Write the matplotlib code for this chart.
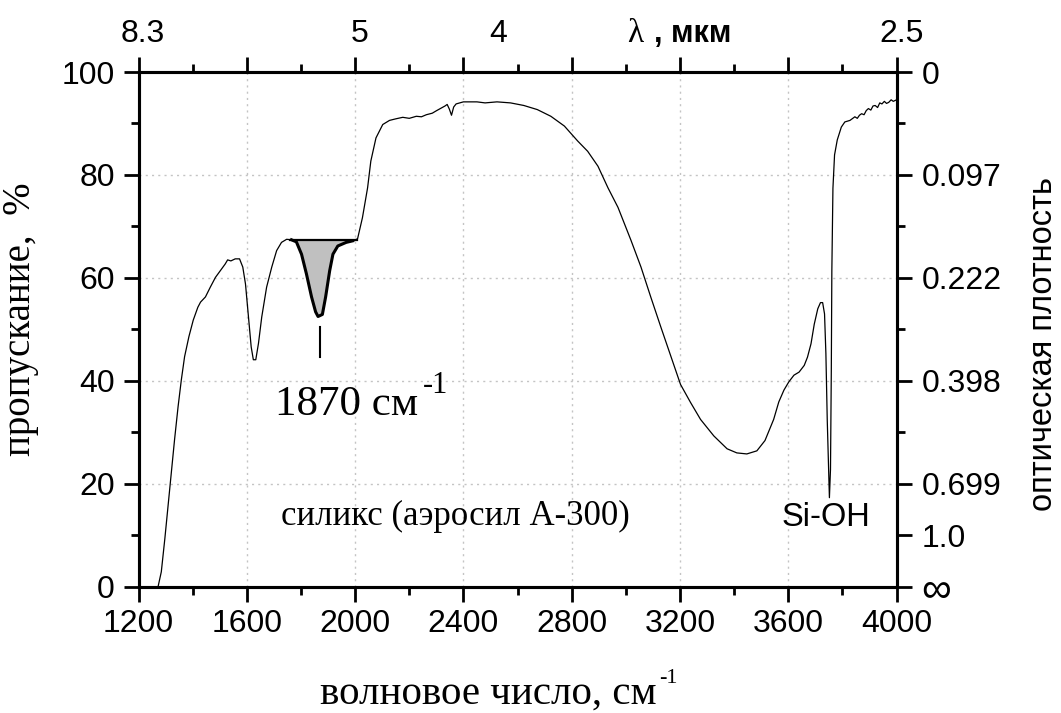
import matplotlib
matplotlib.use('Agg')
import matplotlib.pyplot as plt
import numpy as np

plt.rcParams['font.family'] = ['Liberation Sans', 'DejaVu Sans']
SERIF = ['Liberation Serif', 'DejaVu Serif']

# --- data ---
wavenumber = [1272, 1284, 1297, 1309, 1321, 1333, 1346, 1358, 1370, 1386,
              1402, 1419, 1429, 1447, 1465, 1484, 1502, 1520, 1529, 1541,
              1557, 1573, 1585, 1595, 1606, 1616, 1624, 1633, 1643, 1655,
              1673, 1692, 1710, 1728, 1747, 1765, 1783, 1802, 1820, 1839,
              1854, 1863, 1879, 1891, 1906, 1918, 1936, 1967, 1991, 2009,
              2027, 2046, 2058, 2077, 2102, 2127, 2150, 2176, 2200, 2226,
              2245, 2263, 2285, 2301, 2332, 2340, 2348, 2356, 2364, 2373,
              2400, 2450, 2480, 2524, 2574, 2623, 2673, 2723, 2773, 2822,
              2859, 2897, 2934, 2971, 3019, 3056, 3092, 3129, 3166, 3202,
              3239, 3276, 3325, 3374, 3410, 3447, 3484, 3514, 3546, 3565,
              3584, 3602, 3621, 3640, 3659, 3671, 3684, 3696, 3709, 3719,
              3727, 3734, 3739, 3744, 3749, 3752, 3756, 3759, 3761, 3765,
              3771, 3781, 3796, 3809, 3828, 3846, 3855, 3863, 3871, 3880,
              3888, 3896, 3905, 3913, 3921, 3930, 3938, 3946, 3955, 3963,
              3971, 3980, 3988, 4000]
transmission = [0.0, 2.9, 9.3, 15.8, 22.2, 28.6, 35.0, 40.2, 44.7, 48.6,
                51.8, 54.3, 55.3, 56.3, 58.2, 60.1, 61.4, 62.7, 63.5, 63.3,
                63.7, 63.7, 62.1, 58.8, 52.4, 46.6, 44.1, 44.1, 47.3, 52.4,
                58.2, 62.1, 65.3, 66.9, 67.5, 67.4, 67.0, 64.6, 60.8, 56.3,
                53.4, 52.5, 52.9, 56.3, 61.4, 64.6, 66.2, 66.9, 67.2, 67.6,
                71.7, 77.5, 82.7, 87.2, 89.8, 90.6, 90.9, 91.2, 91.0, 91.4,
                91.3, 91.7, 92.0, 92.5, 93.4, 93.7, 92.8, 91.6, 93.2, 93.8,
                94.2, 94.2, 94.0, 94.2, 94.0, 93.5, 92.7, 91.4, 89.5, 86.6,
                84.6, 81.7, 77.5, 73.7, 67.3, 62.1, 56.3, 50.5, 44.8, 39.3,
                35.8, 32.5, 29.3, 26.8, 26.0, 25.8, 26.4, 28.4, 32.5, 35.9,
                38.2, 39.8, 41.1, 41.7, 43.0, 44.6, 47.2, 51.0, 54.0, 55.2,
                55.2, 53.0, 45.3, 32.4, 22.8, 17.3, 22.8, 42.0, 61.4, 77.4,
                83.9, 86.8, 89.3, 90.3, 90.6, 91.3, 91.0, 91.6, 91.9, 91.7,
                92.5, 92.9, 92.6, 93.4, 93.5, 93.1, 94.0, 93.8, 94.3, 93.9,
                94.1, 94.6, 94.3, 94.6]

band_range = [1765, 1995]      # shaded band
band_base = 67.3
base_range = [1759, 2006]
peak_pos = 1870

od_ticks = [100, 80, 60, 40, 20, 10, 0]
od_labels = ['0', '0.097', '0.222', '0.398', '0.699', '1.0', '\u221e']
lambda_pos = [1215, 2015, 2530, 4020]
lambda_labels = ['8.3', '5', '4', '2.5']

wn = np.array(wavenumber, dtype=float)
tr = np.array(transmission, dtype=float)

fig = plt.figure(figsize=(10.61, 7.13), dpi=100)
ax = fig.add_axes([0.1306, 0.1771, 0.7144, 0.7219])

ax.set_xlim(1200, 4000)
ax.set_ylim(0, 100)
ax.set_xticks(np.arange(1200, 4001, 400))
ax.set_xticks(np.arange(1400, 4000, 400), minor=True)
ax.set_yticks(np.arange(0, 101, 20))
ax.set_yticks(np.arange(10, 100, 20), minor=True)
ax.grid(True, which='major', linestyle=(0, (1.5, 3)), color='#c4c4c4', lw=1)
ax.set_axisbelow(True)

# shaded 1870 band
sel = (wn >= band_range[0]) & (wn <= band_range[1])
ax.fill_between(wn[sel], np.minimum(tr[sel], band_base), band_base,
                color='#c0c0c0', lw=0, zorder=2)
ax.plot(wn, tr, color='black', lw=0.9, zorder=3)
ax.plot(wn[sel], tr[sel], color='black', lw=2.2, zorder=4)
ax.plot(base_range, [band_base, band_base], color='black', lw=1.6, zorder=4)
ax.plot([peak_pos, peak_pos], [44.7, 50.5], color='black', lw=1.5)

ax.text(1704, 33.4, '1870 см', family=SERIF, fontsize=31, ha='left', va='baseline')
ax.text(2250, 37.6, '-1', family=SERIF, fontsize=22, ha='left', va='baseline')
ax.text(1727, 12.0, 'силикс (аэросил А-300)', family=SERIF, fontsize=25,
        ha='left', va='baseline')
ax.text(3577, 11.8, 'Si-OH', fontsize=23.5, ha='left', va='baseline')

for side in ['left', 'right', 'top', 'bottom']:
    ax.spines[side].set_linewidth(2.2)
ax.tick_params(axis='x', which='both', top=True, bottom=True, direction='out',
               width=2, labelsize=23, pad=5)
ax.tick_params(axis='y', which='both', left=True, right=False, direction='out',
               width=2, labelsize=23, pad=6)
ax.tick_params(which='major', length=11)
ax.tick_params(which='minor', length=6)

ax2 = ax.twinx()
ax2.set_ylim(0, 100)
ax2.set_yticks(od_ticks)
ax2.set_yticklabels(od_labels)
ax2.set_yticks([90, 70, 50, 30], minor=True)
ax2.tick_params(axis='y', which='both', right=True, left=False, direction='out',
                width=2, labelsize=23, pad=7)
ax2.tick_params(which='major', length=11)
ax2.tick_params(which='minor', length=6)
ax2.get_yticklabels()[-1].set_fontsize(30)
for side in ['left', 'right', 'top', 'bottom']:
    ax2.spines[side].set_linewidth(2.2)

# wavelength scale on top
for pos, lab in zip(lambda_pos, lambda_labels):
    ax.text(pos, 1.058, lab, transform=ax.get_xaxis_transform(), fontsize=23,
            ha='center', va='baseline')
ax.text(3003, 1.058, '\u03bb', transform=ax.get_xaxis_transform(), family=SERIF,
        fontsize=24, ha='left', va='baseline')
ax.text(3105, 1.058, ', мкм', transform=ax.get_xaxis_transform(), fontsize=22,
        fontweight='bold', ha='left', va='baseline')

fig.text(30 / 1061, 0.552, 'пропускание,  %', family=SERIF, fontsize=28,
         rotation=90, rotation_mode='anchor', ha='center', va='baseline')
fig.text(1052 / 1061, 0.517, 'оптическая плотность', fontsize=23.5,
         rotation=90, rotation_mode='anchor', ha='center', va='baseline')
xl = fig.text(0.46, 0.013, 'волновое число, см', family=SERIF, fontsize=29.5,
              ha='center', va='baseline')
fig.canvas.draw()
bb = xl.get_window_extent().transformed(fig.transFigure.inverted())
fig.text(bb.x1 + 0.003, 0.042, '-1', family=SERIF, fontsize=16,
         ha='left', va='baseline')

fig.savefig('out.png', dpi=100)
